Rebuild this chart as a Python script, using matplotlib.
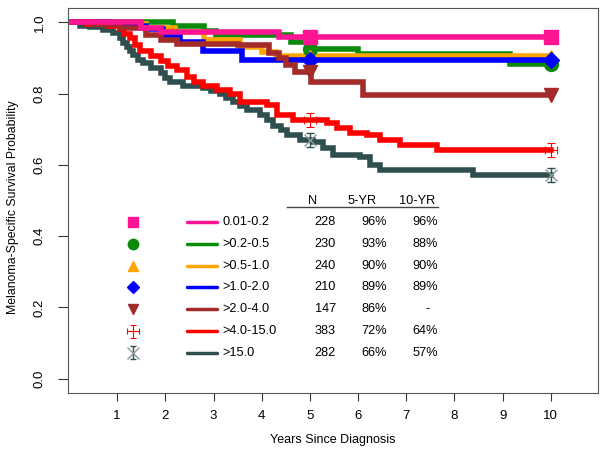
import numpy as np
import matplotlib.pyplot as plt

plt.rcParams['font.family'] = ['Liberation Sans', 'DejaVu Sans']

# Kaplan-Meier step curves (time in years, survival)
t_pink = [0, 1.5, 1.9, 4.35, 10]
s_pink = [1.0, 0.985, 0.972, 0.96, 0.96]

t_green = [0, 2.15, 2.8, 3.05, 4.6, 4.95, 6.0, 9.15, 10]
s_green = [1.0, 0.99, 0.975, 0.963, 0.945, 0.925, 0.91, 0.883, 0.883]

t_orange = [0, 0.85, 1.6, 2.2, 2.8, 3.55, 4.0, 4.3, 10]
s_orange = [1.0, 0.995, 0.983, 0.972, 0.95, 0.932, 0.916, 0.905, 0.905]

t_blue = [0, 0.85, 1.1, 1.6, 1.95, 2.3, 2.78, 3.6, 10]
s_blue = [1.0, 0.995, 0.99, 0.982, 0.962, 0.944, 0.92, 0.893, 0.893]

t_brown = [0, 0.5, 1.05, 1.6, 1.9, 2.25, 3.5, 4.15, 4.35, 4.5, 4.7, 5.02, 6.1, 10]
s_brown = [1.0, 0.995, 0.983, 0.964, 0.95, 0.94, 0.935, 0.913, 0.90, 0.88, 0.86, 0.833, 0.795, 0.795]

t_red = [0, 0.38, 0.8, 1.05, 1.15, 1.27, 1.38, 1.48, 1.7, 1.9, 2.05, 2.24, 2.45, 2.6, 2.78, 3.07,
         3.34, 3.55, 4.1, 4.32, 4.65, 5.36, 5.56, 5.83, 6.18, 6.45, 6.87, 7.64, 10]
s_red = [1.0, 0.995, 0.99, 0.98, 0.968, 0.955, 0.937, 0.92, 0.905, 0.89, 0.878, 0.866, 0.846, 0.833,
         0.82, 0.81, 0.80, 0.776, 0.768, 0.74, 0.725, 0.717, 0.703, 0.69, 0.683, 0.67, 0.655, 0.641, 0.641]

t_gray = [0, 0.23, 0.44, 0.71, 0.92, 1.06, 1.13, 1.2, 1.27, 1.33, 1.44, 1.54, 1.7, 1.9, 2.0, 2.1,
          2.37, 2.78, 2.95, 3.13, 3.25, 3.4, 3.55, 3.7, 3.97, 4.1, 4.24, 4.4, 4.53, 4.8, 5.07, 5.27,
          5.48, 6.04, 6.25, 6.45, 8.38, 10]
s_gray = [1.0, 0.99, 0.986, 0.977, 0.97, 0.955, 0.943, 0.93, 0.918, 0.907, 0.895, 0.885, 0.871,
          0.857, 0.845, 0.832, 0.82, 0.815, 0.808, 0.80, 0.788, 0.776, 0.765, 0.753, 0.74, 0.725,
          0.71, 0.697, 0.683, 0.67, 0.664, 0.647, 0.627, 0.622, 0.60, 0.585, 0.571, 0.571]

groups = ['0.01-0.2', '>0.2-0.5', '>0.5-1.0', '>1.0-2.0', '>2.0-4.0', '>4.0-15.0', '>15.0']
n_pat = ['228', '230', '240', '210', '147', '383', '282']
yr5 = ['96%', '93%', '90%', '89%', '86%', '72%', '66%']
yr10 = ['96%', '88%', '90%', '89%', '-', '64%', '57%']
colors = ['#FF1493', '#0B8A0B', '#FFA500', '#0000FF', '#A52A2A', '#FF0000', '#2F4F4F']
markers = ['s', 'o', '^', 'D', 'v', None, None]
msize = [10, 10, 9, 8, 10, 0, 0]

times = [t_pink, t_green, t_orange, t_blue, t_brown, t_red, t_gray]
survs = [s_pink, s_green, s_orange, s_blue, s_brown, s_red, s_gray]

fig = plt.figure(figsize=(6.06, 4.55), dpi=100)
ax = fig.add_axes([68/606, 1-393/455, 530/606, 385/455])

def surv_at(t, s, x):
    i = np.searchsorted(t, x, side='right') - 1
    return s[i]

draw_order = [6, 5, 1, 2, 3, 4, 0]
for i in draw_order:
    t, s, c = times[i], survs[i], colors[i]
    ax.step(t, s, where='post', color=c, lw=4, solid_joinstyle='miter', zorder=2)
    mx = [5, 10]
    my = [surv_at(t, s, 4.99) if i == 4 else surv_at(t, s, 5), surv_at(t, s, 10)]
    if markers[i] is not None:
        ax.plot(mx, my, ls='none', marker=markers[i], ms=msize[i], color=c, zorder=3)
    elif i == 5:
        ax.errorbar(mx, my, xerr=0.12, yerr=0.02, fmt='none', ecolor=c, elinewidth=0.8,
                    capsize=3, capthick=0.8, zorder=3)
    else:
        ax.errorbar(mx, my, yerr=0.02, fmt='none', ecolor='#2F4F4F', elinewidth=1,
                    capsize=3, capthick=1, zorder=3)
        ax.plot(mx, my, ls='none', marker='x', ms=9, mew=1, color='#8A9A9A', zorder=3)

# legend table
fs = 9.2
row_y = [0.44, 0.378, 0.317, 0.258, 0.195, 0.133, 0.073]
ax.text(5.05, 0.50, 'N', ha='center', va='center', fontsize=fs)
ax.text(6.08, 0.50, '5-YR', ha='center', va='center', fontsize=fs)
ax.text(7.22, 0.50, '10-YR', ha='center', va='center', fontsize=fs)
ax.plot([4.52, 7.66], [0.482, 0.482], color='#444444', lw=1)
for i in range(7):
    y = row_y[i]
    c = colors[i]
    if markers[i] is not None:
        ax.plot(1.33, y, ls='none', marker=markers[i], ms=msize[i]*0.75, color=c)
    elif i == 5:
        ax.errorbar(1.33, y, xerr=0.12, yerr=0.018, fmt='none', ecolor=c, elinewidth=0.8,
                    capsize=2.5, capthick=0.8)
    else:
        ax.errorbar(1.33, y, yerr=0.018, fmt='none', ecolor='#2F4F4F', elinewidth=1,
                    capsize=2.5, capthick=1)
        ax.plot(1.33, y, ls='none', marker='x', ms=8, mew=1, color='#8A9A9A')
    ax.plot([2.45, 3.08], [y, y], color=c, lw=2.5, solid_capstyle='round')
    ax.text(3.18, y, groups[i], ha='left', va='center', fontsize=fs)
    ax.text(5.54, y, n_pat[i], ha='right', va='center', fontsize=fs)
    ax.text(6.6, y, yr5[i], ha='right', va='center', fontsize=fs)
    if yr10[i] == '-':
        ax.text(7.45, y, yr10[i], ha='center', va='center', fontsize=fs)
    else:
        ax.text(7.66, y, yr10[i], ha='right', va='center', fontsize=fs)

ax.set_xlim(-0.02, 10.98)
ax.set_ylim(-0.04, 1.04)
ax.set_xticks(range(1, 11))
ax.set_yticks([0, 0.2, 0.4, 0.6, 0.8, 1.0])
ax.set_yticklabels(['0.0', '0.2', '0.4', '0.6', '0.8', '1.0'], rotation=90, va='center')
ax.tick_params(axis='both', direction='out', labelsize=9.5, color='#333333')
ax.tick_params(axis='y', length=7, pad=9)
ax.tick_params(axis='x', length=6, pad=6)
for sp in ax.spines.values():
    sp.set_color('#555555')
    sp.set_linewidth(0.8)

fig.text(13/606, 1-207/455, 'Melanoma-Specific Survival Probability', rotation=90,
         ha='center', va='center', fontsize=8.8)
fig.text(333/606, 1-440/455, 'Years Since Diagnosis', ha='center', va='center', fontsize=9)

fig.savefig('out.png', dpi=100)
